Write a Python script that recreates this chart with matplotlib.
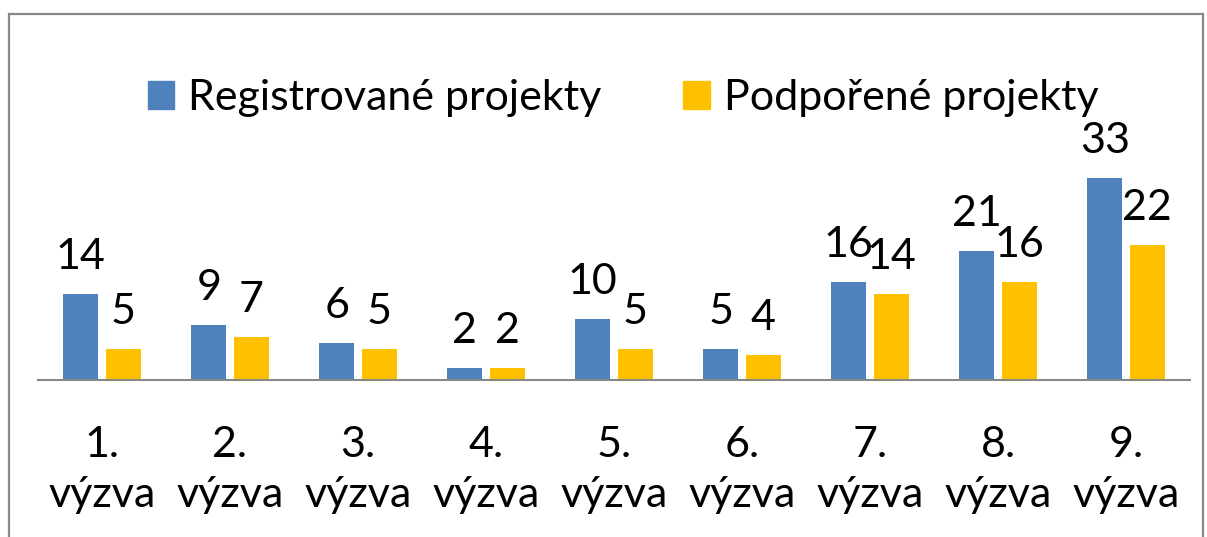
import matplotlib.pyplot as plt
from matplotlib.patches import Patch, Rectangle
import numpy as np

plt.rcParams['font.family'] = ['Lato', 'DejaVu Sans']

categories = ['1.\nvýzva', '2.\nvýzva', '3.\nvýzva', '4.\nvýzva', '5.\nvýzva',
              '6.\nvýzva', '7.\nvýzva', '8.\nvýzva', '9.\nvýzva']
registered = [14, 9, 6, 2, 10, 5, 16, 21, 33]
supported = [5, 7, 5, 2, 5, 4, 14, 16, 22]
series_names = ['Registrované projekty', 'Podpořené projekty']

blue = '#4F81BD'
yellow = '#FFC000'
fs = 31

W, H = 1207, 537
fig = plt.figure(figsize=(W / 100, H / 100), dpi=100)

# outer chart border (bottom edge runs off the picture)
fig.patches.append(Rectangle((9 / W, -0.05), (1203 - 9) / W, 1.05 - 14 / H,
                             transform=fig.transFigure, fill=False,
                             edgecolor='#888888', linewidth=1.6))

ax = fig.add_axes([38 / W, (H - 380) / H, 1152 / W, 230 / H])
x = np.arange(len(categories))
w = 0.27
off = 0.166
b1 = ax.bar(x - off, registered, w, color=blue)
b2 = ax.bar(x + off, supported, w, color=yellow)

for bars, vals in ((b1, registered), (b2, supported)):
    for rect, v in zip(bars, vals):
        ax.annotate(str(v), (rect.get_x() + rect.get_width() / 2, rect.get_height()),
                    xytext=(0, 18), textcoords='offset points',
                    ha='center', va='baseline', fontsize=fs)

ax.set_xlim(-0.5, len(categories) - 0.5)
ax.set_ylim(0, 37.5)
ax.set_xticks(x)
ax.set_xticklabels(categories, fontsize=fs, linespacing=1.4)
ax.tick_params(axis='x', length=0, pad=33)
ax.set_yticks([])
for s in ('top', 'left', 'right'):
    ax.spines[s].set_visible(False)
ax.spines['bottom'].set_color('#888888')
ax.spines['bottom'].set_linewidth(1.5)

handles = [Patch(color=blue), Patch(color=yellow)]
fig.legend(handles, series_names, loc='center', bbox_to_anchor=(623 / W, 1 - 98 / H),
           ncol=2, frameon=False, fontsize=fs, handlelength=0.62, handleheight=0.62,
           handletextpad=0.32, columnspacing=1.9)

fig.savefig('out.png', dpi=100)
